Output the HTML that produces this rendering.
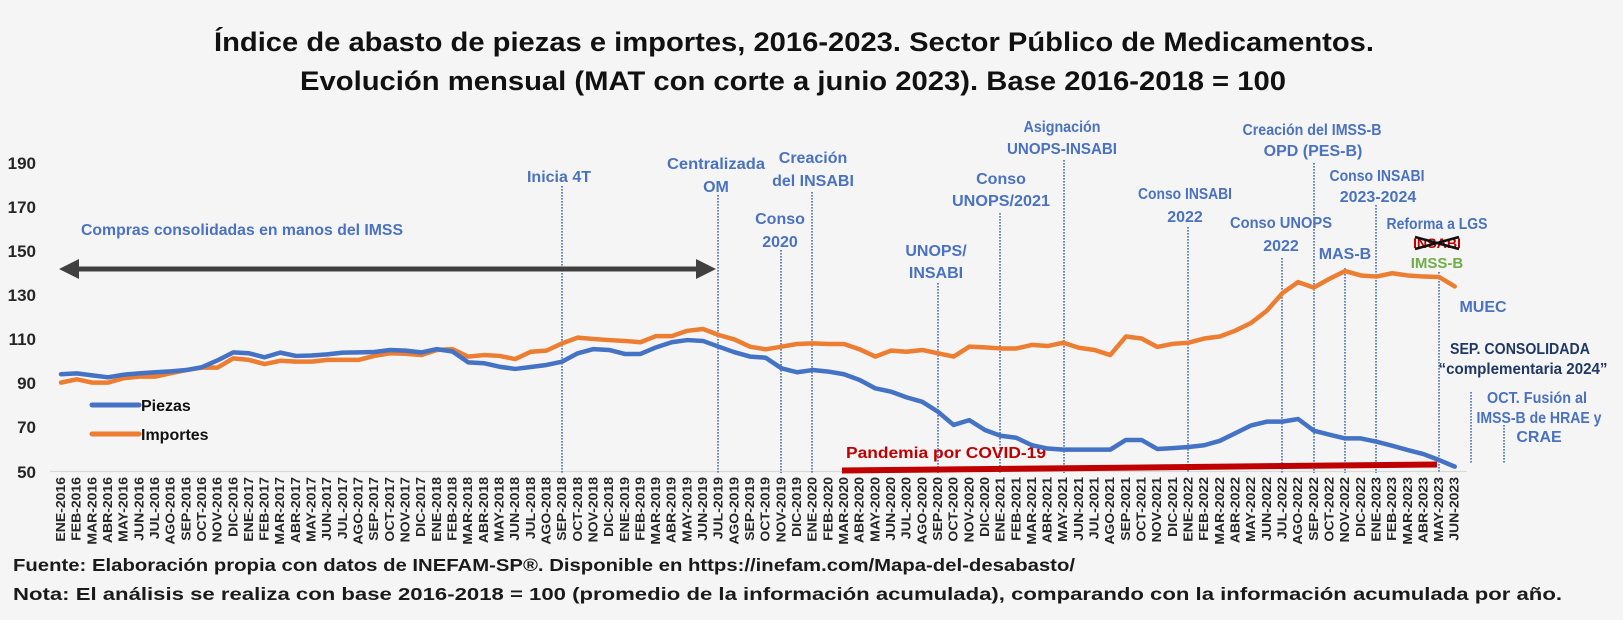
<!DOCTYPE html>
<html><head><meta charset="utf-8"><style>
html,body{margin:0;padding:0;background:#f5f5f5;}
svg{display:block;}
text{font-family:"Liberation Sans",sans-serif;font-weight:bold;}
.t{fill:#111;}
.a{fill:#4a72c0;font-size:16px;text-anchor:middle;}
.y{fill:#262626;font-size:17px;text-anchor:end;}
.m{fill:#262626;font-size:12.5px;text-anchor:end;}
.d{stroke:#4a6fb5;stroke-width:1.6;stroke-dasharray:1.6 1.4;}
</style></head><body>
<svg width="1623" height="620" viewBox="0 0 1623 620" xmlns="http://www.w3.org/2000/svg">
<rect x="0" y="0" width="1623" height="620" fill="#f5f5f5"/>
<!-- Title -->
<text class="t" x="794" y="51" font-size="27" text-anchor="middle" textLength="1160" lengthAdjust="spacingAndGlyphs">Índice de abasto de piezas e importes, 2016-2023. Sector Público de Medicamentos.</text>
<text class="t" x="793" y="90" font-size="27" text-anchor="middle" textLength="986" lengthAdjust="spacingAndGlyphs">Evolución mensual (MAT con corte a junio 2023). Base 2016-2018 = 100</text>

<!-- Y axis labels -->
<text class="y" x="36" y="169">190</text>
<text class="y" x="36" y="213">170</text>
<text class="y" x="36" y="257">150</text>
<text class="y" x="36" y="301">130</text>
<text class="y" x="36" y="345">110</text>
<text class="y" x="36" y="389">90</text>
<text class="y" x="36" y="433">70</text>
<text class="y" x="36" y="478">50</text>

<!-- axis line -->
<line x1="50" y1="471.5" x2="1467" y2="471.5" stroke="#d9d9d9" stroke-width="1.2"/>

<!-- dotted event lines -->
<line class="d" x1="562" y1="186" x2="562" y2="473"/>
<line class="d" x1="718" y1="195" x2="718" y2="473"/>
<line class="d" x1="781" y1="250" x2="781" y2="473"/>
<line class="d" x1="812" y1="192" x2="812" y2="473"/>
<line class="d" x1="938" y1="283" x2="938" y2="473"/>
<line class="d" x1="1000" y1="213" x2="1000" y2="473"/>
<line class="d" x1="1064" y1="160" x2="1064" y2="473"/>
<line class="d" x1="1188" y1="227" x2="1188" y2="473"/>
<line class="d" x1="1282" y1="258" x2="1282" y2="473"/>
<line class="d" x1="1314" y1="163" x2="1314" y2="473"/>
<line class="d" x1="1345" y1="268" x2="1345" y2="473"/>
<line class="d" x1="1376" y1="205" x2="1376" y2="473"/>
<line class="d" x1="1439" y1="272" x2="1439" y2="473"/>
<line class="d" x1="1471" y1="392" x2="1471" y2="463"/>
<line class="d" x1="1504" y1="425" x2="1504" y2="463"/>

<!-- Pandemic bar -->
<line x1="842" y1="470.5" x2="1437" y2="464.5" stroke="#c00000" stroke-width="6"/>
<text x="846" y="458" font-size="16" fill="#c00000" textLength="200" lengthAdjust="spacingAndGlyphs">Pandemia por COVID-19</text>

<!-- Series -->
<g transform="translate(61,471.7) scale(15.66,-2.205)">
<polyline fill="none" stroke="#ED7D31" stroke-width="4.5" stroke-linejoin="round" stroke-linecap="round" vector-effect="non-scaling-stroke" points="0,40.4 1,41.9 2,40.4 3,40.4 4,42.4 5,43.1 6,43.1 7,44.6 8,46.1 9,47.2 10,47.2 11,51.4 12,50.7 13,48.8 14,50.3 15,49.9 16,49.9 17,50.7 18,50.7 19,50.7 20,52.5 21,53.7 22,53.5 23,52.9 24,55.2 25,55.6 26,52.2 27,52.9 28,52.5 29,51.1 30,54.4 31,54.9 32,58.2 33,60.8 34,60.2 35,59.7 36,59.3 37,58.7 38,61.5 39,61.5 40,63.9 41,64.7 42,62 43,60 44,56.7 45,55.5 46,56.7 47,57.9 48,58.2 49,57.9 50,57.9 51,55.5 52,52.2 53,54.9 54,54.4 55,55.2 56,53.7 57,52.2 58,56.7 59,56.4 60,55.9 61,55.9 62,57.5 63,57 64,58.5 65,56.2 66,55.2 67,52.9 68,61.3 69,60.4 70,56.6 71,58 72,58.5 73,60.4 74,61.3 75,64 76,67.5 77,73 78,81 79,86 80,83.5 81,87.5 82,91 83,89 84,88.5 85,90 86,89 87,88.5 88,88.3 89,84"/>
<polyline fill="none" stroke="#4472C4" stroke-width="4.5" stroke-linejoin="round" stroke-linecap="round" vector-effect="non-scaling-stroke" points="0,44.2 1,44.6 2,43.7 3,42.8 4,44 5,44.6 6,45.1 7,45.5 8,46.1 9,47.4 10,50.5 11,54.1 12,53.7 13,51.9 14,54 15,52.5 16,52.7 17,53.2 18,54 19,54.1 20,54.3 21,55.2 22,54.9 23,54.1 24,55.6 25,54.5 26,49.6 27,49.2 28,47.6 29,46.6 30,47.5 31,48.4 32,49.9 33,53.7 34,55.6 35,55.2 36,53.4 37,53.4 38,56.4 39,58.7 40,59.7 41,59.3 42,56.7 43,54.2 44,52.2 45,51.7 46,46.9 47,45.1 48,46.1 49,45.4 50,44.2 51,41.6 52,37.8 53,36.3 54,33.7 55,31.7 56,27.2 57,21.2 58,23.4 59,18.9 60,16.3 61,15.4 62,12 63,10.5 64,10 65,10 66,10 67,10 68,14.4 69,14.4 70,10.3 71,10.7 72,11.2 73,12 74,14 75,17.5 76,21 77,22.7 78,22.7 79,23.9 80,18.6 81,16.8 82,15.1 83,15.1 84,13.6 85,11.8 86,9.8 87,8 88,5.3 89,2.3"/>
</g>

<!-- Legend -->
<line x1="92" y1="405" x2="139" y2="405" stroke="#4472C4" stroke-width="5" stroke-linecap="round"/>
<text x="141" y="411" font-size="16" fill="#111">Piezas</text>
<line x1="92" y1="434" x2="139" y2="434" stroke="#ED7D31" stroke-width="5" stroke-linecap="round"/>
<text x="141" y="440" font-size="16" fill="#111">Importes</text>

<!-- Double arrow -->
<line x1="75" y1="269" x2="699" y2="269" stroke="#404040" stroke-width="5"/>
<polygon points="59,269 79,259 79,279" fill="#404040"/>
<polygon points="716,269 696,259 696,279" fill="#404040"/>
<text class="a" x="242" y="235" textLength="322" lengthAdjust="spacingAndGlyphs">Compras consolidadas en manos del IMSS</text>

<!-- Annotations -->
<text class="a" x="559" y="182">Inicia 4T</text>
<text class="a" x="716" y="169" textLength="98" lengthAdjust="spacingAndGlyphs">Centralizada</text>
<text class="a" x="716" y="192">OM</text>
<text class="a" x="813" y="163">Creación</text>
<text class="a" x="813" y="186">del INSABI</text>
<text class="a" x="780" y="224">Conso</text>
<text class="a" x="780" y="247">2020</text>
<text class="a" x="936" y="256">UNOPS/</text>
<text class="a" x="936" y="278">INSABI</text>
<text class="a" x="1001" y="184">Conso</text>
<text class="a" x="1001" y="206" textLength="98" lengthAdjust="spacingAndGlyphs">UNOPS/2021</text>
<text class="a" x="1062" y="132" textLength="77" lengthAdjust="spacingAndGlyphs">Asignación</text>
<text class="a" x="1062" y="154" textLength="110" lengthAdjust="spacingAndGlyphs">UNOPS-INSABI</text>
<text class="a" x="1185" y="199" textLength="94" lengthAdjust="spacingAndGlyphs">Conso INSABI</text>
<text class="a" x="1185" y="222">2022</text>
<text class="a" x="1281" y="228" textLength="102" lengthAdjust="spacingAndGlyphs">Conso UNOPS</text>
<text class="a" x="1281" y="251">2022</text>
<text class="a" x="1312" y="135" textLength="139" lengthAdjust="spacingAndGlyphs">Creación del IMSS-B</text>
<text class="a" x="1313" y="156">OPD (PES-B)</text>
<text class="a" x="1377" y="181" textLength="95" lengthAdjust="spacingAndGlyphs">Conso INSABI</text>
<text class="a" x="1378" y="202">2023-2024</text>
<text class="a" x="1345" y="259">MAS-B</text>
<text class="a" x="1437" y="229" textLength="101" lengthAdjust="spacingAndGlyphs">Reforma a LGS</text>
<text x="1437" y="248" font-size="14" fill="#c00000" text-anchor="middle" textLength="48" lengthAdjust="spacingAndGlyphs">INSABI</text>
<line x1="1415" y1="237" x2="1459" y2="249" stroke="#111" stroke-width="2.5"/>
<line x1="1415" y1="249" x2="1459" y2="237" stroke="#111" stroke-width="2.5"/>
<text x="1437" y="268" font-size="15" fill="#70AD47" text-anchor="middle">IMSS-B</text>
<text class="a" x="1483" y="312">MUEC</text>
<text x="1520" y="354" font-size="15.5" fill="#1F3864" text-anchor="middle" textLength="140" lengthAdjust="spacingAndGlyphs">SEP. CONSOLIDADA</text>
<text x="1523" y="374" font-size="15.5" fill="#1F3864" text-anchor="middle" textLength="169" lengthAdjust="spacingAndGlyphs">“complementaria 2024”</text>
<text class="a" x="1537" y="403" textLength="100" lengthAdjust="spacingAndGlyphs">OCT. Fusión al</text>
<text class="a" x="1539" y="423" textLength="125" lengthAdjust="spacingAndGlyphs">IMSS-B de HRAE y</text>
<text class="a" x="1539" y="442">CRAE</text>

<!-- Month labels -->
<g class="mlab">
<text class="m" transform="translate(65,477) rotate(-90) scale(1.12,1)">ENE-2016</text>
<text class="m" transform="translate(80.7,477) rotate(-90) scale(1.12,1)">FEB-2016</text>
<text class="m" transform="translate(96.3,477) rotate(-90) scale(1.12,1)">MAR-2016</text>
<text class="m" transform="translate(112,477) rotate(-90) scale(1.12,1)">ABR-2016</text>
<text class="m" transform="translate(127.6,477) rotate(-90) scale(1.12,1)">MAY-2016</text>
<text class="m" transform="translate(143.3,477) rotate(-90) scale(1.12,1)">JUN-2016</text>
<text class="m" transform="translate(159,477) rotate(-90) scale(1.12,1)">JUL-2016</text>
<text class="m" transform="translate(174.6,477) rotate(-90) scale(1.12,1)">AGO-2016</text>
<text class="m" transform="translate(190.3,477) rotate(-90) scale(1.12,1)">SEP-2016</text>
<text class="m" transform="translate(205.9,477) rotate(-90) scale(1.12,1)">OCT-2016</text>
<text class="m" transform="translate(221.6,477) rotate(-90) scale(1.12,1)">NOV-2016</text>
<text class="m" transform="translate(237.3,477) rotate(-90) scale(1.12,1)">DIC-2016</text>
<text class="m" transform="translate(252.9,477) rotate(-90) scale(1.12,1)">ENE-2017</text>
<text class="m" transform="translate(268.6,477) rotate(-90) scale(1.12,1)">FEB-2017</text>
<text class="m" transform="translate(284.2,477) rotate(-90) scale(1.12,1)">MAR-2017</text>
<text class="m" transform="translate(299.9,477) rotate(-90) scale(1.12,1)">ABR-2017</text>
<text class="m" transform="translate(315.6,477) rotate(-90) scale(1.12,1)">MAY-2017</text>
<text class="m" transform="translate(331.2,477) rotate(-90) scale(1.12,1)">JUN-2017</text>
<text class="m" transform="translate(346.9,477) rotate(-90) scale(1.12,1)">JUL-2017</text>
<text class="m" transform="translate(362.5,477) rotate(-90) scale(1.12,1)">AGO-2017</text>
<text class="m" transform="translate(378.2,477) rotate(-90) scale(1.12,1)">SEP-2017</text>
<text class="m" transform="translate(393.9,477) rotate(-90) scale(1.12,1)">OCT-2017</text>
<text class="m" transform="translate(409.5,477) rotate(-90) scale(1.12,1)">NOV-2017</text>
<text class="m" transform="translate(425.2,477) rotate(-90) scale(1.12,1)">DIC-2017</text>
<text class="m" transform="translate(440.8,477) rotate(-90) scale(1.12,1)">ENE-2018</text>
<text class="m" transform="translate(456.5,477) rotate(-90) scale(1.12,1)">FEB-2018</text>
<text class="m" transform="translate(472.2,477) rotate(-90) scale(1.12,1)">MAR-2018</text>
<text class="m" transform="translate(487.8,477) rotate(-90) scale(1.12,1)">ABR-2018</text>
<text class="m" transform="translate(503.5,477) rotate(-90) scale(1.12,1)">MAY-2018</text>
<text class="m" transform="translate(519.1,477) rotate(-90) scale(1.12,1)">JUN-2018</text>
<text class="m" transform="translate(534.8,477) rotate(-90) scale(1.12,1)">JUL-2018</text>
<text class="m" transform="translate(550.5,477) rotate(-90) scale(1.12,1)">AGO-2018</text>
<text class="m" transform="translate(566.1,477) rotate(-90) scale(1.12,1)">SEP-2018</text>
<text class="m" transform="translate(581.8,477) rotate(-90) scale(1.12,1)">OCT-2018</text>
<text class="m" transform="translate(597.4,477) rotate(-90) scale(1.12,1)">NOV-2018</text>
<text class="m" transform="translate(613.1,477) rotate(-90) scale(1.12,1)">DIC-2018</text>
<text class="m" transform="translate(628.8,477) rotate(-90) scale(1.12,1)">ENE-2019</text>
<text class="m" transform="translate(644.4,477) rotate(-90) scale(1.12,1)">FEB-2019</text>
<text class="m" transform="translate(660.1,477) rotate(-90) scale(1.12,1)">MAR-2019</text>
<text class="m" transform="translate(675.7,477) rotate(-90) scale(1.12,1)">ABR-2019</text>
<text class="m" transform="translate(691.4,477) rotate(-90) scale(1.12,1)">MAY-2019</text>
<text class="m" transform="translate(707.1,477) rotate(-90) scale(1.12,1)">JUN-2019</text>
<text class="m" transform="translate(722.7,477) rotate(-90) scale(1.12,1)">JUL-2019</text>
<text class="m" transform="translate(738.4,477) rotate(-90) scale(1.12,1)">AGO-2019</text>
<text class="m" transform="translate(754,477) rotate(-90) scale(1.12,1)">SEP-2019</text>
<text class="m" transform="translate(769.7,477) rotate(-90) scale(1.12,1)">OCT-2019</text>
<text class="m" transform="translate(785.4,477) rotate(-90) scale(1.12,1)">NOV-2019</text>
<text class="m" transform="translate(801,477) rotate(-90) scale(1.12,1)">DIC-2019</text>
<text class="m" transform="translate(816.7,477) rotate(-90) scale(1.12,1)">ENE-2020</text>
<text class="m" transform="translate(832.3,477) rotate(-90) scale(1.12,1)">FEB-2020</text>
<text class="m" transform="translate(848,477) rotate(-90) scale(1.12,1)">MAR-2020</text>
<text class="m" transform="translate(863.7,477) rotate(-90) scale(1.12,1)">ABR-2020</text>
<text class="m" transform="translate(879.3,477) rotate(-90) scale(1.12,1)">MAY-2020</text>
<text class="m" transform="translate(895,477) rotate(-90) scale(1.12,1)">JUN-2020</text>
<text class="m" transform="translate(910.6,477) rotate(-90) scale(1.12,1)">JUL-2020</text>
<text class="m" transform="translate(926.3,477) rotate(-90) scale(1.12,1)">AGO-2020</text>
<text class="m" transform="translate(942,477) rotate(-90) scale(1.12,1)">SEP-2020</text>
<text class="m" transform="translate(957.6,477) rotate(-90) scale(1.12,1)">OCT-2020</text>
<text class="m" transform="translate(973.3,477) rotate(-90) scale(1.12,1)">NOV-2020</text>
<text class="m" transform="translate(988.9,477) rotate(-90) scale(1.12,1)">DIC-2020</text>
<text class="m" transform="translate(1004.6,477) rotate(-90) scale(1.12,1)">ENE-2021</text>
<text class="m" transform="translate(1020.3,477) rotate(-90) scale(1.12,1)">FEB-2021</text>
<text class="m" transform="translate(1035.9,477) rotate(-90) scale(1.12,1)">MAR-2021</text>
<text class="m" transform="translate(1051.6,477) rotate(-90) scale(1.12,1)">ABR-2021</text>
<text class="m" transform="translate(1067.2,477) rotate(-90) scale(1.12,1)">MAY-2021</text>
<text class="m" transform="translate(1082.9,477) rotate(-90) scale(1.12,1)">JUN-2021</text>
<text class="m" transform="translate(1098.6,477) rotate(-90) scale(1.12,1)">JUL-2021</text>
<text class="m" transform="translate(1114.2,477) rotate(-90) scale(1.12,1)">AGO-2021</text>
<text class="m" transform="translate(1129.9,477) rotate(-90) scale(1.12,1)">SEP-2021</text>
<text class="m" transform="translate(1145.5,477) rotate(-90) scale(1.12,1)">OCT-2021</text>
<text class="m" transform="translate(1161.2,477) rotate(-90) scale(1.12,1)">NOV-2021</text>
<text class="m" transform="translate(1176.9,477) rotate(-90) scale(1.12,1)">DIC-2021</text>
<text class="m" transform="translate(1192.5,477) rotate(-90) scale(1.12,1)">ENE-2022</text>
<text class="m" transform="translate(1208.2,477) rotate(-90) scale(1.12,1)">FEB-2022</text>
<text class="m" transform="translate(1223.8,477) rotate(-90) scale(1.12,1)">MAR-2022</text>
<text class="m" transform="translate(1239.5,477) rotate(-90) scale(1.12,1)">ABR-2022</text>
<text class="m" transform="translate(1255.2,477) rotate(-90) scale(1.12,1)">MAY-2022</text>
<text class="m" transform="translate(1270.8,477) rotate(-90) scale(1.12,1)">JUN-2022</text>
<text class="m" transform="translate(1286.5,477) rotate(-90) scale(1.12,1)">JUL-2022</text>
<text class="m" transform="translate(1302.1,477) rotate(-90) scale(1.12,1)">AGO-2022</text>
<text class="m" transform="translate(1317.8,477) rotate(-90) scale(1.12,1)">SEP-2022</text>
<text class="m" transform="translate(1333.5,477) rotate(-90) scale(1.12,1)">OCT-2022</text>
<text class="m" transform="translate(1349.1,477) rotate(-90) scale(1.12,1)">NOV-2022</text>
<text class="m" transform="translate(1364.8,477) rotate(-90) scale(1.12,1)">DIC-2022</text>
<text class="m" transform="translate(1380.4,477) rotate(-90) scale(1.12,1)">ENE-2023</text>
<text class="m" transform="translate(1396.1,477) rotate(-90) scale(1.12,1)">FEB-2023</text>
<text class="m" transform="translate(1411.8,477) rotate(-90) scale(1.12,1)">MAR-2023</text>
<text class="m" transform="translate(1427.4,477) rotate(-90) scale(1.12,1)">ABR-2023</text>
<text class="m" transform="translate(1443.1,477) rotate(-90) scale(1.12,1)">MAY-2023</text>
<text class="m" transform="translate(1458.7,477) rotate(-90) scale(1.12,1)">JUN-2023</text>
</g>

<!-- Footer -->
<text x="13" y="571" font-size="17.5" fill="#1a1a1a" textLength="1062" lengthAdjust="spacingAndGlyphs">Fuente: Elaboración propia con datos de INEFAM-SP®. Disponible en https://inefam.com/Mapa-del-desabasto/</text>
<text x="13" y="600" font-size="17.5" fill="#1a1a1a" textLength="1549" lengthAdjust="spacingAndGlyphs">Nota: El análisis se realiza con base 2016-2018 = 100 (promedio de la información acumulada), comparando con la información acumulada por año.</text>
</svg>
</body></html>
